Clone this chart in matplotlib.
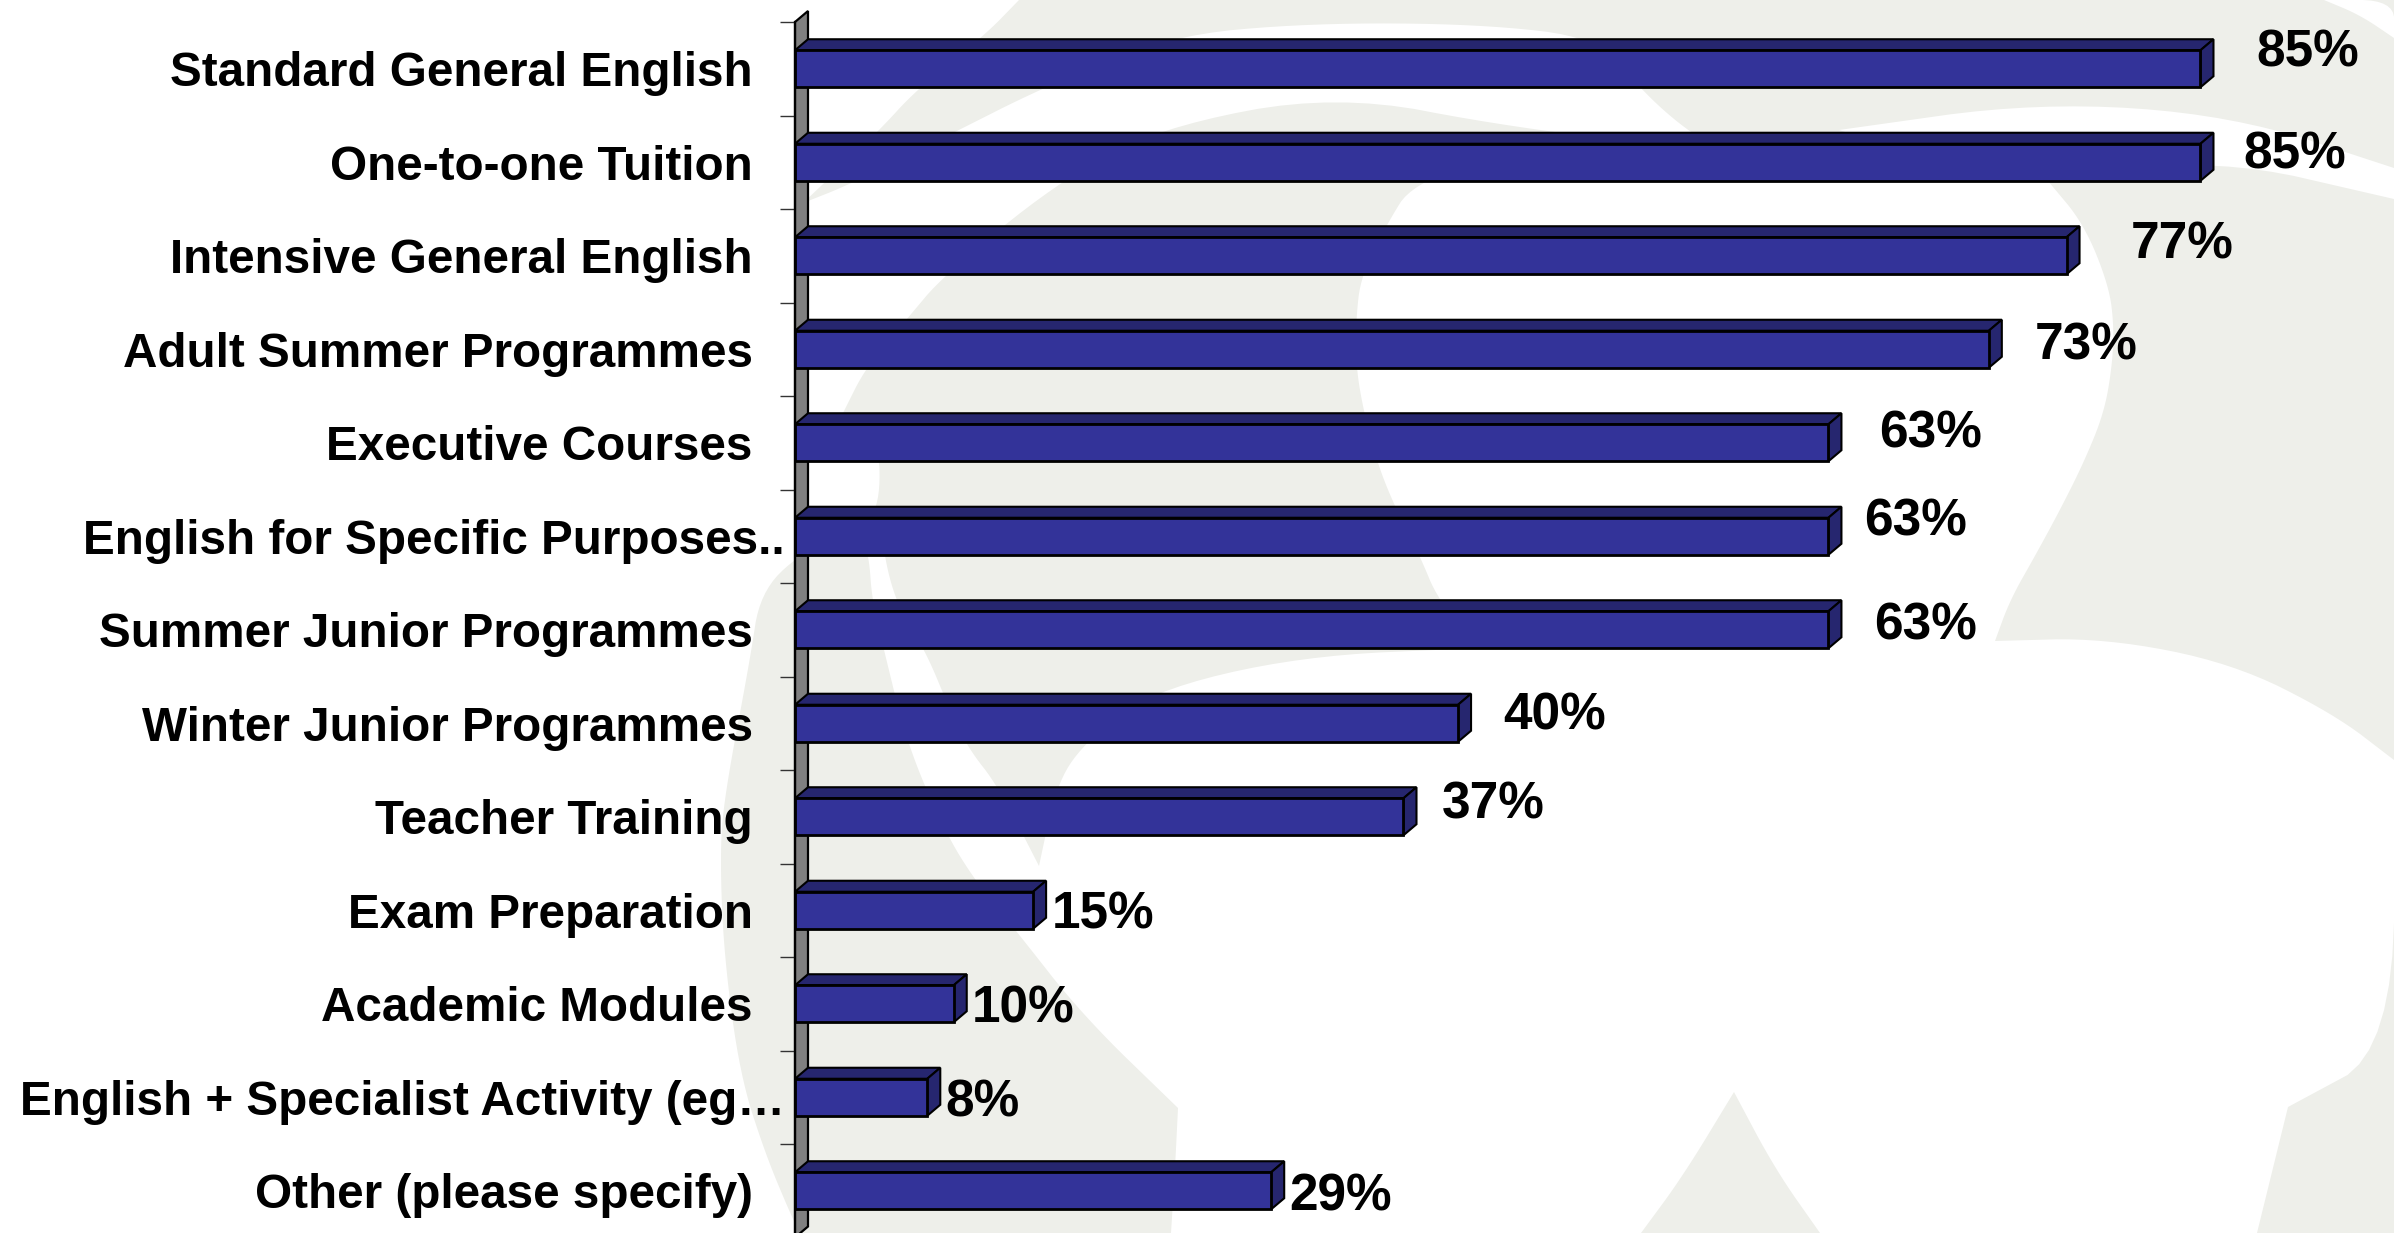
import numpy as np
import matplotlib
matplotlib.use('Agg')
import matplotlib.pyplot as plt
from matplotlib.patches import Polygon

plt.rcParams['font.family'] = ['Liberation Sans', 'DejaVu Sans']

categories = ['Standard General English', 'One-to-one Tuition', 'Intensive General English',
              'Adult Summer Programmes', 'Executive Courses', 'English for Specific Purposes..',
              'Summer Junior Programmes', 'Winter Junior Programmes', 'Teacher Training',
              'Exam Preparation', 'Academic Modules', 'English + Specialist Activity (eg…',
              'Other (please specify)']
values = [85.0, 85.0, 76.9, 72.2, 62.5, 62.5, 62.5, 40.1, 36.8, 14.4, 9.6, 8.0, 28.8]
value_labels = ['85%', '85%', '77%', '73%', '63%', '63%', '63%', '40%', '37%', '15%', '10%', '8%', '29%']

# hand placed labels, pixels from the end of the bar
label_dx = [56, 43, 64, 46, 51, 36, 46, 45, 38, 19, 18, 18, 18]
label_dy = [-16, -7, -11, -3, -9, -14, -4, -7, -12, 5, 5, 6, 6]
truncated = [5, 11]

W, H = 2394, 1233
PX = 16.535       # pixels per percent
ROW = 93.5        # pixels per category
DEPTH_X = 13      # 3d depth of the bars in pixels
DEPTH_Y = 11
GREY = '#EEEFEA'
FRONT = '#333399'
SHADE = '#26266F'

fig = plt.figure(figsize=(W / 100, H / 100), dpi=100, facecolor='white')


def smooth(points, rounds=3):
    pts = np.array(points, dtype=float)
    for _ in range(rounds):
        q = pts[:-1] * 0.75 + pts[1:] * 0.25
        r = pts[:-1] * 0.25 + pts[1:] * 0.75
        mid = np.empty((len(q) * 2, 2))
        mid[0::2] = q
        mid[1::2] = r
        pts = np.vstack([pts[0], mid, pts[-1]])
    return pts


def outline(*pieces):
    return np.vstack([smooth(p) for p in pieces])


# watermark behind the chart, in image pixels
bg = fig.add_axes([0, 0, 1, 1], zorder=0)
bg.set_xlim(0, W)
bg.set_ylim(H, 0)
bg.axis('off')
bg.add_patch(Polygon([(0, 0), (W, 0), (W, H), (0, H)], color=GREY, lw=0))

outside = outline(
    [(0, 0), (1019, 0)],
    [(1019, 0), (984, 36), (917, 89), (877, 133), (803, 203)],
    [(803, 203), (851, 184), (953, 133), (1040, 89), (1167, 36), (1310, 23), (1480, 24), (1600, 38), (1640, 89), (1686, 130), (1725, 152)],
    [(1725, 152), (1514, 128), (1336, 94), (1157, 128), (1055, 184), (943, 276), (907, 319), (866, 367), (843, 413)],
    [(843, 413), (879, 440), (880, 505), (860, 530)],
    [(860, 530), (800, 553), (760, 593), (750, 660), (724, 798), (720, 857), (724, 956), (740, 1075), (765, 1153), (790, 1213), (800, 1233)],
    [(800, 1233), (0, 1233)],
)
hole = outline(
    [(1171, 1233), (1175, 1169), (1178, 1108)],
    [(1178, 1108), (1083, 1016), (1014, 928), (976, 882), (945, 832), (907, 744), (884, 650), (872, 600), (869, 556), (860, 530)],
    [(860, 530), (880, 525), (889, 580), (905, 620), (926, 652), (950, 710), (968, 748), (998, 786), (1039, 866)],
    [(1039, 866), (1056, 786), (1083, 744), (1148, 692), (1300, 656), (1480, 648)],
    [(1480, 648), (1438, 600), (1420, 556), (1394, 505), (1377, 462), (1364, 413), (1356, 367), (1356, 319), (1361, 276), (1387, 224), (1412, 184), (1500, 155)],
    [(1500, 155), (1700, 150), (1900, 150), (2048, 181)],
    [(2048, 181), (2084, 224), (2109, 286), (2114, 327), (2112, 367), (2104, 413), (2084, 462), (2060, 510), (2035, 556), (2010, 600), (1995, 641)],
    [(1995, 641), (2104, 638), (2232, 663), (2334, 714), (2394, 760)],
    [(2394, 760), (2394, 1050), (2288, 1107)],
    [(2288, 1107), (2257, 1233)],
    [(2257, 1233), (1820, 1233)],
    [(1820, 1233), (1775, 1169), (1734, 1092)],
    [(1734, 1092), (1683, 1176), (1641, 1233)],
)
streak = outline(
    [(1839, 130), (2038, 102), (2232, 115), (2394, 168)],
    [(2394, 168), (2394, 199)],
    [(2394, 199), (2216, 158), (2048, 181)],
    [(2048, 181), (1900, 150), (1839, 130)],
)
corner = outline([(2324, 0), (2360, 15), (2394, 38)], [(2394, 38), (2394, 0), (2324, 0)])
for shape in [outside, hole, streak, corner]:
    bg.add_patch(Polygon(shape, color='white', lw=0))

# the chart, front of the axis wall sits at x=795
n = len(categories)
ax = fig.add_axes([795 / W, (H - 22 - ROW * n) / H, (W - 795) / W, ROW * n / H], zorder=1)
ax.patch.set_alpha(0)
ax.set_xlim(0, (W - 795) / PX)
ax.set_ylim(n, 0)

dx = DEPTH_X / PX
dy = DEPTH_Y / ROW
y = np.arange(n) + 0.5
bar_h = 37 / ROW

ax.fill([0, dx, dx, 0], [0, -dy, n - dy, n], facecolor='#808080', edgecolor='black',
        linewidth=1.6, clip_on=False, zorder=1)

for yi, v in zip(y, values):
    top = yi - bar_h / 2
    bottom = yi + bar_h / 2
    ax.fill([0, dx, v + dx, v], [top, top - dy, top - dy, top], facecolor=SHADE, edgecolor='black',
            linewidth=1.5, clip_on=False, zorder=2)
    ax.fill([v, v + dx, v + dx, v], [top, top - dy, bottom - dy, bottom], facecolor=SHADE, edgecolor='black',
            linewidth=1.5, clip_on=False, zorder=2)
ax.barh(y, values, height=bar_h, color=FRONT, edgecolor='black', linewidth=2, zorder=3)

for i, (yi, v) in enumerate(zip(y, values)):
    ax.annotate(value_labels[i], (v, yi), xytext=(label_dx[i], -label_dy[i]), textcoords='offset pixels',
                ha='left', va='center', fontsize=37, fontweight='bold', color='black', zorder=5)

ax.set_yticks(y, categories)
ax.set_yticks(np.arange(n + 1), minor=True)
ax.tick_params(axis='y', which='major', length=0, labelsize=34.3, pad=30.5)
ax.tick_params(axis='y', which='minor', length=10.8, width=1, color='#333333', left=True)
for i, tick in enumerate(ax.yaxis.get_major_ticks()):
    tick.label1.set_fontweight('bold')
    if i in truncated:
        tick.set_pad(7.5)
ax.set_xticks([])
for side in ['top', 'right', 'bottom']:
    ax.spines[side].set_visible(False)
ax.spines['left'].set_linewidth(1.6)
ax.spines['left'].set_zorder(4)

fig.savefig('out.png', dpi=100, facecolor='white')
